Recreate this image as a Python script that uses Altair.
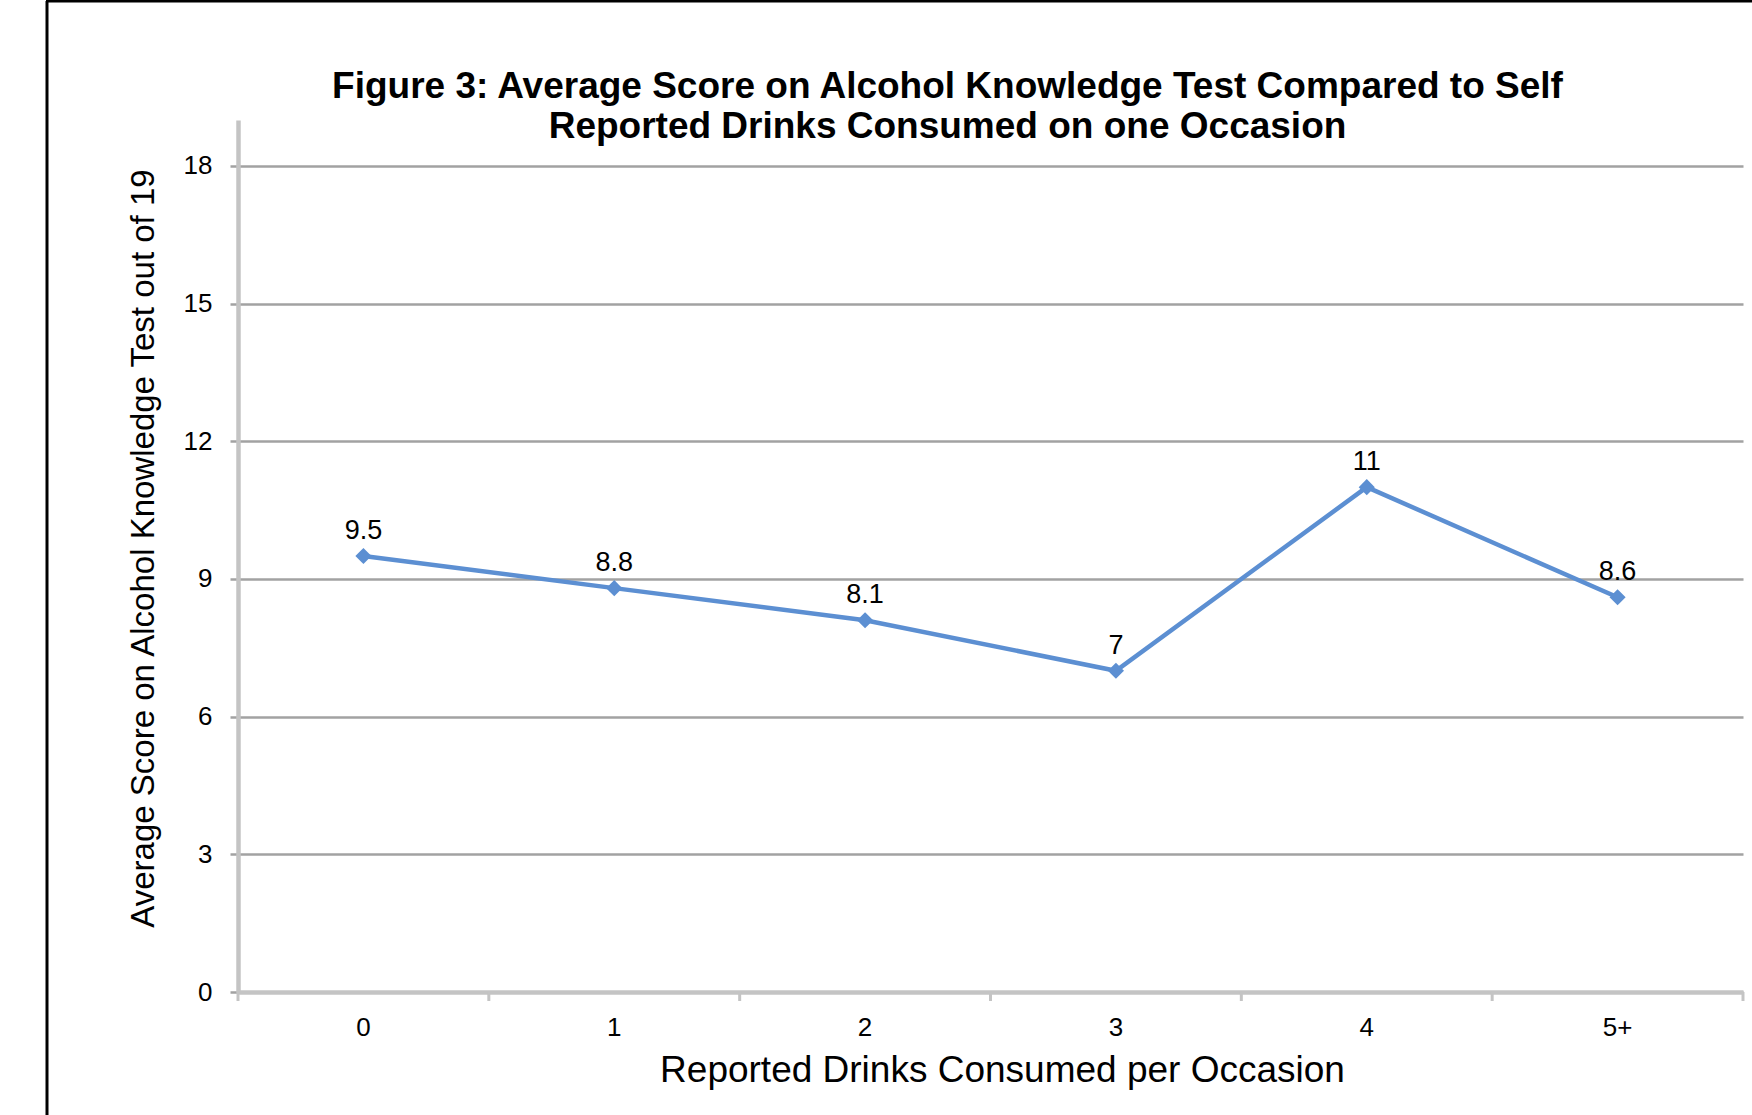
import altair as alt
import pandas as pd

# Average knowledge-test score (out of 19) by self-reported drinks per occasion
drinks = ["0", "1", "2", "3", "4", "5+"]
avg_score = [9.5, 8.8, 8.1, 7, 11, 8.6]
score_ticks = [0, 3, 6, 9, 12, 15, 18]

df = pd.DataFrame({"drinks": drinks, "score": avg_score})
df["label"] = [f"{v:g}" for v in avg_score]
edge_df = pd.DataFrame({"drinks": drinks})
last_df = pd.DataFrame({"drinks": drinks[-1:]})

FONT = "Liberation Sans"
LINE_BLUE = "#5C8FD2"
AXIS_GREY = "#C4C4C4"
GRID_GREY = "#A2A2A2"

W, H = 1505, 872

x_enc = alt.X(
    "drinks:N",
    sort=drinks,
    scale=alt.Scale(paddingInner=0, paddingOuter=0),
    axis=alt.Axis(
        title="Reported Drinks Consumed per Occasion",
        titleFont=FONT, titleFontSize=37, titleFontWeight="normal", titleColor="black",
        titleX=764, titleY=78, titleBaseline="middle", titleAlign="center",
        labelFont=FONT, labelFontSize=26, labelColor="black", labelAngle=0,
        labelAlign="center", labelBaseline="middle", labelPadding=35,
        ticks=False, tickSize=0,
        domainColor=AXIS_GREY, domainWidth=4.5,
        grid=False,
    ),
)
y_enc = alt.Y(
    "score:Q",
    scale=alt.Scale(domain=[0, 19], nice=False, zero=True),
    axis=alt.Axis(
        values=score_ticks,
        title="Average Score on Alcohol Knowledge Test out of 19",
        titleFont=FONT, titleFontSize=33, titleFontWeight="normal", titleColor="black",
        titleAngle=270, titleX=-95, titleY=428, titleBaseline="middle", titleAlign="center",
        labelFont=FONT, labelFontSize=26, labelColor="black", labelPadding=18,
        tickSize=8, tickColor=GRID_GREY, tickWidth=2.5,
        domainColor=AXIS_GREY, domainWidth=4.5,
        grid=True, gridColor=GRID_GREY, gridWidth=2.5,
    ),
)

line = alt.Chart(df).mark_line(
    color=LINE_BLUE, strokeWidth=4.5,
    point=alt.OverlayMarkDef(shape="diamond", size=260, filled=True, color=LINE_BLUE, opacity=1),
).encode(x=x_enc, y=y_enc)

labels = alt.Chart(df).mark_text(
    font=FONT, fontSize=27, color="black", baseline="middle", align="center", dy=-25,
).encode(x=alt.X("drinks:N", sort=drinks), y="score:Q", text="label:N")

# category-boundary ticks below the horizontal axis
edge_ticks = alt.Chart(edge_df).mark_rule(color=AXIS_GREY, strokeWidth=3).encode(
    x=alt.X("drinks:N", sort=drinks, bandPosition=0),
    y=alt.value(H), y2=alt.value(H + 9),
)
end_tick = alt.Chart(last_df).mark_rule(color=AXIS_GREY, strokeWidth=3).encode(
    x=alt.X("drinks:N", sort=drinks, bandPosition=1),
    y=alt.value(H), y2=alt.value(H + 9),
)

# page frame: left and top black border lines
frame_left = alt.Chart(edge_df.head(1)).mark_rule(color="black", strokeWidth=3).encode(
    x=alt.value(-191), y=alt.value(-119), y2=alt.value(1115)
)
frame_top = alt.Chart(edge_df.head(1)).mark_rule(color="black", strokeWidth=3).encode(
    x=alt.value(-192), x2=alt.value(1600), y=alt.value(-119)
)

chart = (
    alt.layer(edge_ticks, end_tick, line, labels, frame_left, frame_top)
    .properties(
        width=W,
        height=H,
        background="white",
        title=alt.Title(
            text=[
                "Figure 3: Average Score on Alcohol Knowledge Test Compared to Self",
                "Reported Drinks Consumed on one Occasion",
            ],
            font=FONT, fontSize=37, fontWeight="bold", color="black",
            anchor="middle", frame="group", dx=-43, baseline="alphabetic",
            offset=-175, lineHeight=40,
        ),
        autosize=alt.AutoSizeParams(type="none"),
        padding={"left": 238, "top": 120, "right": 9, "bottom": 123},
    )
    .configure_view(stroke="transparent", strokeWidth=0)
)

chart.save("out.html", embed_options={"renderer": "svg", "actions": False})
